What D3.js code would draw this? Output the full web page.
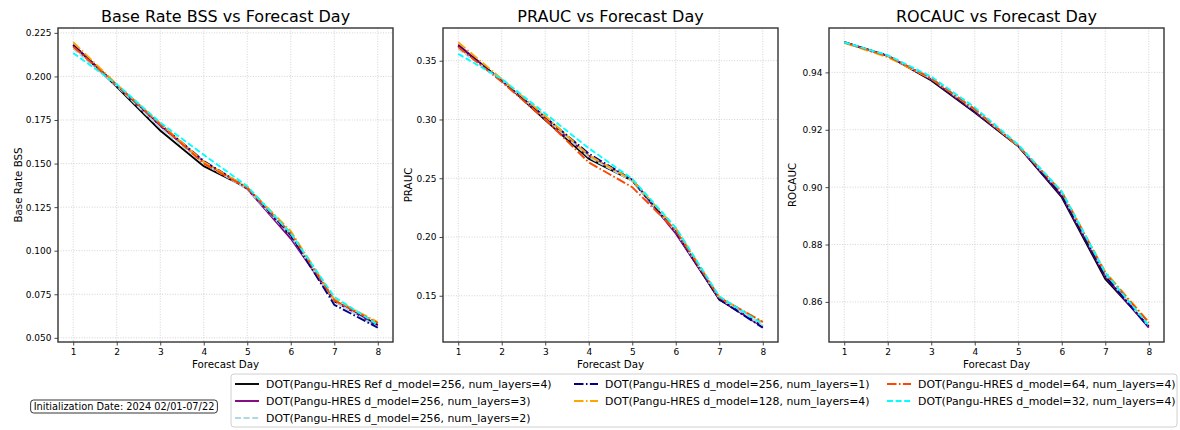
<!DOCTYPE html>
<html><head><meta charset="utf-8">
<script src="https://cdn.jsdelivr.net/npm/d3@7"></script>
<style>
body{margin:0;background:#fff;}
svg{display:block;font-family:"DejaVu Sans",sans-serif;}
</style></head>
<body><svg id="c" width="1180" height="430"></svg>
<script>
const days = [1,2,3,4,5,6,7,8];
const seriesNames = [
  "DOT(Pangu-HRES Ref d_model=256, num_layers=4)",
  "DOT(Pangu-HRES d_model=256, num_layers=3)",
  "DOT(Pangu-HRES d_model=256, num_layers=2)",
  "DOT(Pangu-HRES d_model=256, num_layers=1)",
  "DOT(Pangu-HRES d_model=128, num_layers=4)",
  "DOT(Pangu-HRES d_model=64, num_layers=4)",
  "DOT(Pangu-HRES d_model=32, num_layers=4)"
];
// Base Rate BSS
const bssRef   = [0.2180,0.1940,0.1690,0.1485,0.1360,0.1080,0.0710,0.0575];
const bssL3    = [0.2182,0.1950,0.1715,0.1510,0.1355,0.1070,0.0715,0.0565];
const bssL2    = [0.2160,0.1945,0.1705,0.1500,0.1355,0.1085,0.0710,0.0560];
const bssL1    = [0.2178,0.1950,0.1725,0.1515,0.1360,0.1090,0.0690,0.0558];
const bssD128  = [0.2196,0.1955,0.1730,0.1510,0.1365,0.1112,0.0722,0.0590];
const bssD64   = [0.2170,0.1950,0.1725,0.1500,0.1360,0.1100,0.0715,0.0585];
const bssD32   = [0.2135,0.1955,0.1735,0.1550,0.1370,0.1100,0.0735,0.0575];
// PRAUC
const prRef    = [0.3628,0.3335,0.2995,0.2667,0.2480,0.2040,0.1468,0.1240];
const prL3     = [0.3637,0.3330,0.3010,0.2690,0.2485,0.2030,0.1475,0.1235];
const prL2     = [0.3600,0.3335,0.3015,0.2680,0.2475,0.2045,0.1480,0.1245];
const prL1     = [0.3625,0.3330,0.3020,0.2710,0.2487,0.2045,0.1470,0.1228];
const prD128   = [0.3657,0.3345,0.3030,0.2695,0.2485,0.2075,0.1490,0.1275];
const prD64    = [0.3617,0.3320,0.3000,0.2635,0.2424,0.2055,0.1485,0.1278];
const prD32    = [0.3558,0.3345,0.3050,0.2755,0.2495,0.2080,0.1495,0.1260];
// ROCAUC
const rocRef   = [0.9505,0.9458,0.9372,0.9260,0.9143,0.8965,0.8680,0.8515];
const rocL3    = [0.9505,0.9458,0.9375,0.9263,0.9143,0.8970,0.8688,0.8510];
const rocL2    = [0.9505,0.9458,0.9378,0.9268,0.9145,0.8978,0.8695,0.8515];
const rocL1    = [0.9505,0.9458,0.9377,0.9265,0.9143,0.8972,0.8690,0.8512];
const rocD128  = [0.9503,0.9453,0.9378,0.9270,0.9143,0.8985,0.8705,0.8530];
const rocD64   = [0.9505,0.9457,0.9380,0.9272,0.9145,0.8982,0.8700,0.8528];
const rocD32   = [0.9505,0.9460,0.9385,0.9278,0.9148,0.8985,0.8702,0.8518];

const bssTicks = [0.050,0.075,0.100,0.125,0.150,0.175,0.200,0.225];
const prTicks  = [0.15,0.20,0.25,0.30,0.35];
const rocTicks = [0.86,0.88,0.90,0.92,0.94];
const initLabel = "Initialization Date: 2024 02/01-07/22";

// styles
const colors = ["#000000","#800080","#add8e6","#00008b","#ffa500","#ff4500","#00ffff"];
const dashes = [null,null,"6,2.6","9.5,2.4,1.6,2.4","9.5,2.4,1.6,2.4","9.5,2.4,1.6,2.4","6,2.6"];

const panels = [
  {title:"Base Rate BSS vs Forecast Day", ylabel:"Base Rate BSS", data:[bssRef,bssL3,bssL2,bssL1,bssD128,bssD64,bssD32], ticks:bssTicks, fmt:".3f", left:58, ylabX:18},
  {title:"PRAUC vs Forecast Day", ylabel:"PRAUC", data:[prRef,prL3,prL2,prL1,prD128,prD64,prD32], ticks:prTicks, fmt:".2f", left:443, ylabX:408},
  {title:"ROCAUC vs Forecast Day", ylabel:"ROCAUC", data:[rocRef,rocL3,rocL2,rocL1,rocD128,rocD64,rocD32], ticks:rocTicks, fmt:".2f", left:829, ylabX:792}
];

const svg = d3.select("#c");
const PW = 335, PT = 28, PB = 342;

panels.forEach(p => {
  const all = p.data.flat();
  const mn = d3.min(all), mx = d3.max(all), pad = (mx-mn)*0.05;
  const x = d3.scaleLinear().domain([1-0.35, 8+0.35]).range([p.left, p.left+PW]);
  const y = d3.scaleLinear().domain([mn-pad, mx+pad]).range([PB, PT]);
  const g = svg.append("g");
  // grid
  g.selectAll(".gx").data(days).join("line")
    .attr("x1",d=>x(d)).attr("x2",d=>x(d)).attr("y1",PT).attr("y2",PB)
    .attr("stroke","#c8c8c8").attr("stroke-width",0.8).attr("stroke-dasharray","1,1.6");
  g.selectAll(".gy").data(p.ticks).join("line")
    .attr("x1",p.left).attr("x2",p.left+PW).attr("y1",d=>y(d)).attr("y2",d=>y(d))
    .attr("stroke","#c8c8c8").attr("stroke-width",0.8).attr("stroke-dasharray","1,1.6");
  // lines
  const line = d3.line().x((d,i)=>x(days[i])).y(d=>y(d));
  p.data.forEach((s,i)=>{
    g.append("path").datum(s).attr("d",line).attr("fill","none")
      .attr("stroke",colors[i]).attr("stroke-width",1.9)
      .attr("stroke-dasharray",dashes[i]);
  });
  // axes
  const xa = g.append("g").attr("transform",`translate(0,${PB})`)
    .call(d3.axisBottom(x).tickValues(days).tickFormat(d3.format("d")).tickSize(3.5).tickPadding(3));
  const ya = g.append("g").attr("transform",`translate(${p.left},0)`)
    .call(d3.axisLeft(y).tickValues(p.ticks).tickFormat(d3.format(p.fmt)).tickSize(3.5).tickPadding(3));
  [xa,ya].forEach(a=>{
    a.select(".domain").remove();
    a.selectAll("text").attr("font-size","9px").attr("fill","#000").attr("font-family","DejaVu Sans");
    a.selectAll("line").attr("stroke","#333").attr("stroke-width",0.9);
  });
  // frame
  g.append("rect").attr("x",p.left).attr("y",PT).attr("width",PW).attr("height",PB-PT)
    .attr("fill","none").attr("stroke","#333").attr("stroke-width",1.4);
  // title
  g.append("text").attr("x",p.left+PW/2).attr("y",22).attr("text-anchor","middle")
    .attr("font-size","16px").attr("fill","#000").text(p.title);
  g.append("text").attr("x",p.left+PW/2).attr("y",368).attr("text-anchor","middle")
    .attr("font-size","10.3px").attr("fill","#000").text("Forecast Day");
  g.append("text").attr("transform",`translate(${p.ylabX+4},${(PT+PB)/2}) rotate(-90)`)
    .attr("text-anchor","middle").attr("font-size","10.3px").attr("fill","#000").text(p.ylabel);
});

// legend
const lg = svg.append("g");
lg.append("rect").attr("x",231).attr("y",374).attr("width",946).attr("height",53).attr("rx",3)
  .attr("fill","#fff").attr("stroke","#d0d0d0").attr("stroke-width",1);
const colX = [235,574,887];
const rowY = [384,401,418];
const pos = [[0,0],[0,1],[0,2],[1,0],[1,1],[2,0],[2,1]];
seriesNames.forEach((n,i)=>{
  const [c,r] = pos[i];
  const lx = colX[c], ly = rowY[r];
  lg.append("line").attr("x1",lx).attr("x2",lx+24).attr("y1",ly).attr("y2",ly)
    .attr("stroke",colors[i]).attr("stroke-width",1.9).attr("stroke-dasharray",dashes[i]);
  lg.append("text").attr("x",lx+31).attr("y",ly+3.8).attr("font-size","10.9px").attr("fill","#000").text(n);
});

// init box
const ib = svg.append("g");
const it = ib.append("text").attr("x",124).attr("y",410).attr("text-anchor","middle")
  .attr("font-size","9.8px").attr("fill","#000").text(initLabel);
const bb = it.node().getBBox();
ib.insert("rect","text").attr("x",bb.x-3).attr("y",bb.y-1).attr("width",bb.width+6).attr("height",bb.height+2)
  .attr("rx",3).attr("fill","#fff").attr("stroke","#000").attr("stroke-width",0.8);
</script></body></html>
